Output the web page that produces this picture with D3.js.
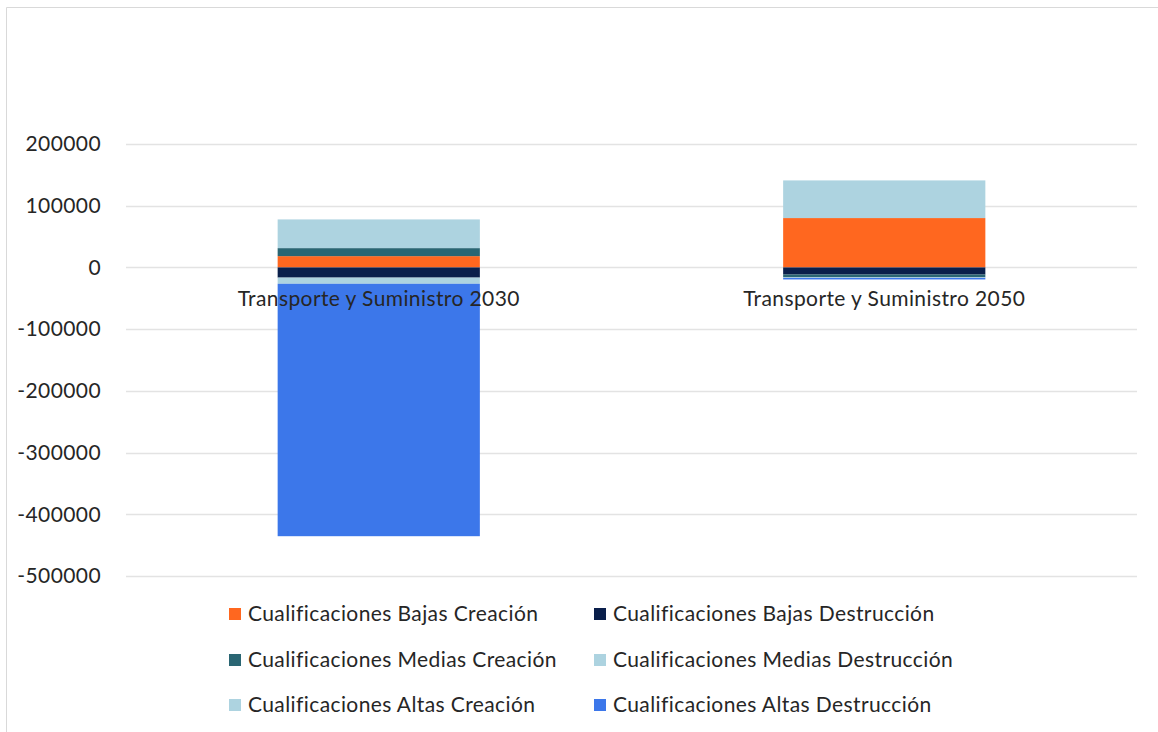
<!DOCTYPE html>
<html><head><meta charset="utf-8">
<script src="https://cdn.jsdelivr.net/npm/d3@7"></script>
<style>body{margin:0;background:#fff;} svg{display:block;}</style>
</head><body>
<svg id="c" width="1158" height="732"></svg>
<script>
const categories = ["Transporte y Suministro 2030", "Transporte y Suministro 2050"];
const seriesNames = ["Cualificaciones Bajas Creación", "Cualificaciones Bajas Destrucción",
  "Cualificaciones Medias Creación", "Cualificaciones Medias Destrucción",
  "Cualificaciones Altas Creación", "Cualificaciones Altas Destrucción"];
const bajasCreacion = [18300, 80000];
const bajasDestruccion = [-16500, -11500];
const mediasCreacion = [13000, -4500];
const mediasDestruccion = [-10000, -1000];
const altasCreacion = [46500, 61000];
const altasDestruccion = [-409000, -2500];
const tickValues = [200000, 100000, 0, -100000, -200000, -300000, -400000, -500000];
const colors = ["#FF671F", "#0A1F4B", "#2A6673", "#ADD3E0", "#ADD3E0", "#3C77EA"];

const seriesValues = [bajasCreacion, bajasDestruccion, mediasCreacion, mediasDestruccion, altasCreacion, altasDestruccion];
const svg = d3.select("#c");
const font = "Lato, 'Open Sans', sans-serif";
const fs = 21, ls = 0.4;
const txt = "#262626";

// chart border
svg.append("path").attr("d", "M6.5,732 V7.5 H1158").attr("fill", "none").attr("stroke", "#d9d9d9").attr("stroke-width", 1);

const x0 = 126, x1 = 1137;
const y = d3.scaleLinear().domain([-500000, 200000]).range([576, 144]);
const x = d3.scaleBand().domain(categories).range([x0, x1]).paddingInner(0.6).paddingOuter(0.3);

// gridlines
svg.append("g").selectAll("line").data(tickValues).join("line")
  .attr("x1", x0).attr("x2", x1)
  .attr("y1", d => Math.round(y(d)) + 0.5).attr("y2", d => Math.round(y(d)) + 0.5)
  .attr("stroke", "#e3e3e3").attr("stroke-width", 1.5);

// y axis labels via d3 axis
const yAxis = svg.append("g").attr("transform", `translate(${x0 - 22},0)`)
  .call(d3.axisLeft(y).tickValues(tickValues).tickSize(0).tickFormat(d => String(d)));
yAxis.select(".domain").remove();
yAxis.selectAll("text").attr("font-family", font).attr("font-size", fs).attr("letter-spacing", ls).attr("fill", txt).attr("dx", 0);

// stacks
categories.forEach((c, ci) => {
  let pos = 0, neg = 0;
  seriesValues.forEach((s, si) => {
    const v = s[ci];
    let a, b;
    if (v >= 0) { a = pos; b = pos + v; pos = b; } else { a = neg; b = neg + v; neg = b; }
    svg.append("rect")
      .attr("x", x(c)).attr("width", x.bandwidth())
      .attr("y", y(Math.max(a, b))).attr("height", Math.abs(y(a) - y(b)))
      .attr("fill", colors[si]);
  });
});

// category labels
svg.append("g").selectAll("text").data(categories).join("text")
  .attr("x", d => x(d) + x.bandwidth() / 2).attr("y", 306)
  .attr("text-anchor", "middle").attr("font-family", font).attr("font-size", fs).attr("letter-spacing", ls).attr("fill", txt)
  .text(d => d);

// legend
const legX = [229, 594], legY = [614, 660, 705];
seriesNames.forEach((n, i) => {
  const col = i % 2, row = Math.floor(i / 2);
  const g = svg.append("g").attr("transform", `translate(${legX[col]},${legY[row]})`);
  g.append("rect").attr("x", 0).attr("y", -6).attr("width", 12).attr("height", 12).attr("fill", colors[i]);
  g.append("text").attr("x", 19).attr("y", 7).attr("font-family", font).attr("font-size", fs).attr("letter-spacing", ls).attr("fill", txt).text(n);
});
</script>
</body></html>
